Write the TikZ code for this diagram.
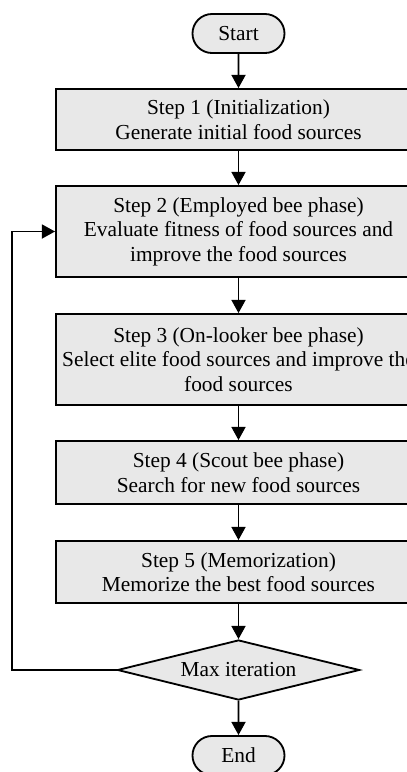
\documentclass[tikz,border=0pt]{standalone}
\usepackage{fontspec}
\setmainfont{Liberation Serif}
\usepackage{tikz}
\usetikzlibrary{shapes.geometric, shapes.misc, arrows.meta, positioning}
\definecolor{mydark}{RGB}{0,0,0}
\definecolor{boxgray}{RGB}{232,232,232}
\tikzset{
  block/.style={rectangle, draw=mydark, fill=boxgray,
    minimum width=9.125cm, align=center, inner sep=0pt,
    line width=1.3pt},
  terminal/.style={rounded rectangle, draw=mydark, fill=boxgray,
    minimum width=2.3cm, minimum height=0.975cm, inner sep=0pt,
    line width=1.3pt},
  decision/.style={diamond, aspect=4, draw=mydark, fill=boxgray,
    minimum width=6.05cm, minimum height=1.5cm, inner sep=0pt,
    line width=1.3pt},
  arrow/.style={-{Triangle[width=0.35cm, length=0.33cm]}, line width=1.3pt, color=mydark}
}

\begin{document}
\begin{tikzpicture}[x=0.025cm, y=-0.025cm, every node/.style={font=\fontsize{15.2}{17.5}\selectfont}]
  \clip (0,0) rectangle (407,772);

  % Start and steps
  \node[terminal] (start) at (238.5,33.5) {Start};
  \node[block, minimum height=1.525cm] (init) at (238.5,119.5)
    {Step 1 (Initialization)\\Generate initial food sources};
  \node[block, minimum height=2.275cm] (employed) at (238.5,231.5)
    {Step 2 (Employed bee phase)\\Evaluate fitness of food sources and\\improve the food sources};
  \node[block, minimum height=2.275cm] (onlooker) at (238.5,359.5)
    {Step 3 (On-looker bee phase)\\Select elite food sources and improve the\\food sources};
  \node[block, minimum height=1.575cm] (scout) at (238.5,472.5)
    {Step 4 (Scout bee phase)\\Search for new food sources};
  \node[block, minimum height=1.55cm] (memo) at (238.5,572)
    {Step 5 (Memorization)\\Memorize the best food sources};
  \node[decision] (maxit) at (238.5,670) {Max iteration};
  \node[terminal] (end) at (238.5,755.5) {End};

  \draw[arrow] (start) -- (init);
  \draw[arrow] (init) -- (employed);
  \draw[arrow] (employed) -- (onlooker);
  \draw[arrow] (onlooker) -- (scout);
  \draw[arrow] (scout) -- (memo);
  \draw[arrow] (memo) -- (maxit);
  \draw[arrow] (maxit) -- (end);

  % Loop back
  \coordinate (loop) at (12,0);
  \draw[arrow] (maxit.west) -- (maxit.west -| loop) |- (employed.west);
\end{tikzpicture}
\end{document}
